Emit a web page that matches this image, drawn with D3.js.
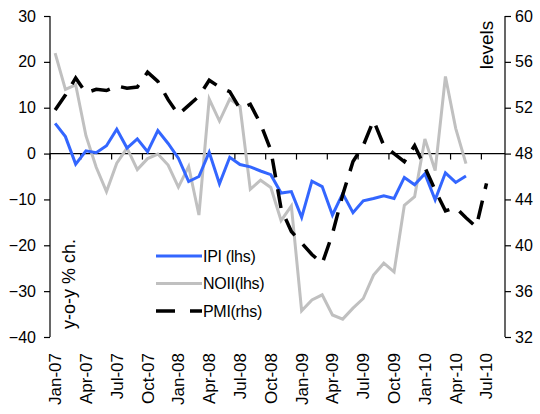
<!DOCTYPE html>
<html>
<head>
<meta charset="utf-8">
<script src="https://cdn.jsdelivr.net/npm/d3@7"></script>
<style>
  body { margin: 0; background: #fff; }
  svg text { font-family: "Liberation Sans", Arial, sans-serif; fill: #000; }
</style>
</head>
<body>
<div id="chart"></div>
<script>
// months on the category axis (Jan-07 .. Aug-10)
var months = ["Jan-07","Feb-07","Mar-07","Apr-07","May-07","Jun-07","Jul-07","Aug-07","Sep-07","Oct-07","Nov-07","Dec-07",
              "Jan-08","Feb-08","Mar-08","Apr-08","May-08","Jun-08","Jul-08","Aug-08","Sep-08","Oct-08","Nov-08","Dec-08",
              "Jan-09","Feb-09","Mar-09","Apr-09","May-09","Jun-09","Jul-09","Aug-09","Sep-09","Oct-09","Nov-09","Dec-09",
              "Jan-10","Feb-10","Mar-10","Apr-10","May-10","Jun-10","Jul-10","Aug-10"];
var tickLabels = ["Jan-07","Apr-07","Jul-07","Oct-07","Jan-08","Apr-08","Jul-08","Oct-08",
                  "Jan-09","Apr-09","Jul-09","Oct-09","Jan-10","Apr-10","Jul-10"];

// IPI, y-o-y % ch. (lhs)
var ipi = [6.6, 3.7, -2.3, 0.6, 0.2, 1.7, 5.3, 1.2, 3.2, 0.4, 5.0, 2.2,
           -1.0, -6.1, -5.0, 0.3, -6.6, -0.8, -2.4, -2.9, -3.8, -4.6, -8.6, -8.3,
           -13.9, -6.0, -7.2, -13.4, -8.7, -12.9, -10.3, -9.8, -9.2, -9.8, -5.2, -6.8,
           -4.4, -10.1, -4.2, -6.3, -4.9];
// new orders, y-o-y % ch. (lhs)
var noii = [21.9, 14.0, 15.0, 3.9, -3.0, -8.3, -2.1, 1.2, -3.5, -1.1, -0.1, -2.5,
            -7.3, -2.8, -13.4, 11.9, 7.1, 11.9, 10.3, -7.8, -5.8, -7.4, -14.6, -11.4,
            -34.3, -31.9, -30.8, -35.2, -36.1, -33.7, -31.6, -26.5, -23.9, -25.8, -11.3, -9.4,
            3.2, -3.7, 16.8, 5.5, -2.2];
// PMI, levels (rhs)
var pmi = [51.8, 53.1, 54.6, 53.3, 53.6, 53.5, 53.9, 53.7, 53.8, 55.1, 54.3, 52.7,
           51.4, 52.2, 53.0, 54.4, 53.8, 53.4, 51.9, 52.3, 50.6, 48.3, 43.2, 41.2,
           40.2, 39.2, 38.4, 41.0, 44.4, 47.3, 48.7, 50.9, 48.7, 48.0, 47.3, 48.7,
           46.8, 44.8, 43.0, 43.3, 42.4, 41.6, 45.4];

var leftTicks = [-40, -30, -20, -10, 0, 10, 20, 30];
var rightTicks = [32, 36, 40, 44, 48, 52, 56, 60];

var width = 540, height = 414;
var x0 = 50, x1 = 505, yTop = 16, yBot = 337;

var svg = d3.select("#chart").append("svg")
    .attr("width", width)
    .attr("height", height);

// category index -> pixel (centre of each month)
var x = d3.scaleLinear().domain([-0.5, months.length - 0.2]).range([x0, x1]);
var yL = d3.scaleLinear().domain([-40, 30]).range([yBot, yTop]);
var yR = d3.scaleLinear().domain([32, 60]).range([yBot, yTop]);

// left axis
svg.append("g")
    .attr("transform", "translate(" + x0 + ",0)")
    .call(d3.axisLeft(yL).tickValues(leftTicks).tickSize(6).tickPadding(8).tickFormat(d3.format("d")))
    .call(function(g) {
        g.selectAll("path,line").attr("stroke", "#000").attr("stroke-width", 1.2);
        g.select(".domain").attr("d", "M0," + yTop + "V" + yBot);
        g.selectAll("text").style("font-size", "16px");
    });

// right axis
svg.append("g")
    .attr("transform", "translate(" + x1 + ",0)")
    .call(d3.axisRight(yR).tickValues(rightTicks).tickSize(6).tickPadding(4))
    .call(function(g) {
        g.selectAll("path,line").attr("stroke", "#000").attr("stroke-width", 1.2);
        g.select(".domain").attr("d", "M0," + yTop + "V" + yBot);
        g.selectAll("text").style("font-size", "16px");
    });

// category axis sitting on the zero line
var xa = svg.append("g");
xa.append("line")
    .attr("x1", x0).attr("x2", x1)
    .attr("y1", yL(0)).attr("y2", yL(0))
    .attr("stroke", "#000").attr("stroke-width", 1.2);
xa.selectAll("line.tick")
    .data(d3.range(0, months.length, 3))
    .enter().append("line")
    .attr("class", "tick")
    .attr("x1", function(i) { return x(i - 0.5); })
    .attr("x2", function(i) { return x(i - 0.5); })
    .attr("y1", yL(0)).attr("y2", yL(0) + 6)
    .attr("stroke", "#000").attr("stroke-width", 1.2);

svg.append("g").selectAll("text")
    .data(tickLabels)
    .enter().append("text")
    .attr("transform", function(d) {
        return "translate(" + x(months.indexOf(d)) + ",353) rotate(-90)";
    })
    .attr("text-anchor", "end")
    .attr("dy", "0.35em")
    .style("font-size", "17px")
    .text(function(d) { return d; });

// axis titles
svg.append("text")
    .attr("transform", "translate(69,284) rotate(-90)")
    .attr("text-anchor", "middle")
    .attr("dy", "0.35em")
    .style("font-size", "18px")
    .text("y-o-y % ch.");

svg.append("text")
    .attr("transform", "translate(486,45) rotate(-90)")
    .attr("text-anchor", "middle")
    .attr("dy", "0.35em")
    .style("font-size", "19px")
    .text("levels");

// series
var lineL = d3.line().x(function(d, i) { return x(i); }).y(function(d) { return yL(d); });
var lineR = d3.line().x(function(d, i) { return x(i); }).y(function(d) { return yR(d); });

svg.append("path").datum(noii)
    .attr("d", lineL).attr("fill", "none")
    .attr("stroke", "#c0c0c0").attr("stroke-width", 3);

svg.append("path").datum(ipi)
    .attr("d", lineL).attr("fill", "none")
    .attr("stroke", "#3366ff").attr("stroke-width", 3);

svg.append("path").datum(pmi)
    .attr("d", lineR).attr("fill", "none")
    .attr("stroke", "#000").attr("stroke-width", 3.5)
    .attr("stroke-dasharray", "19,12");

// legend
var legend = [
    {name: "IPI (lhs)", color: "#3366ff", dash: null, w: 3},
    {name: "NOII(lhs)", color: "#c0c0c0", dash: null, w: 3},
    {name: "PMI(rhs)", color: "#000", dash: "19,15", w: 3.5}
];
var lg = svg.append("g").selectAll("g")
    .data(legend)
    .enter().append("g")
    .attr("transform", function(d, i) { return "translate(156," + (256 + i * 27.5) + ")"; });
lg.append("line")
    .attr("x1", 0).attr("x2", 46)
    .attr("stroke", function(d) { return d.color; })
    .attr("stroke-width", function(d) { return d.w; })
    .attr("stroke-dasharray", function(d) { return d.dash; });
lg.append("text")
    .attr("x", 47)
    .attr("dy", "0.35em")
    .style("font-size", "16px")
    .style("letter-spacing", "-0.3px")
    .text(function(d) { return d.name; });
</script>
</body>
</html>
